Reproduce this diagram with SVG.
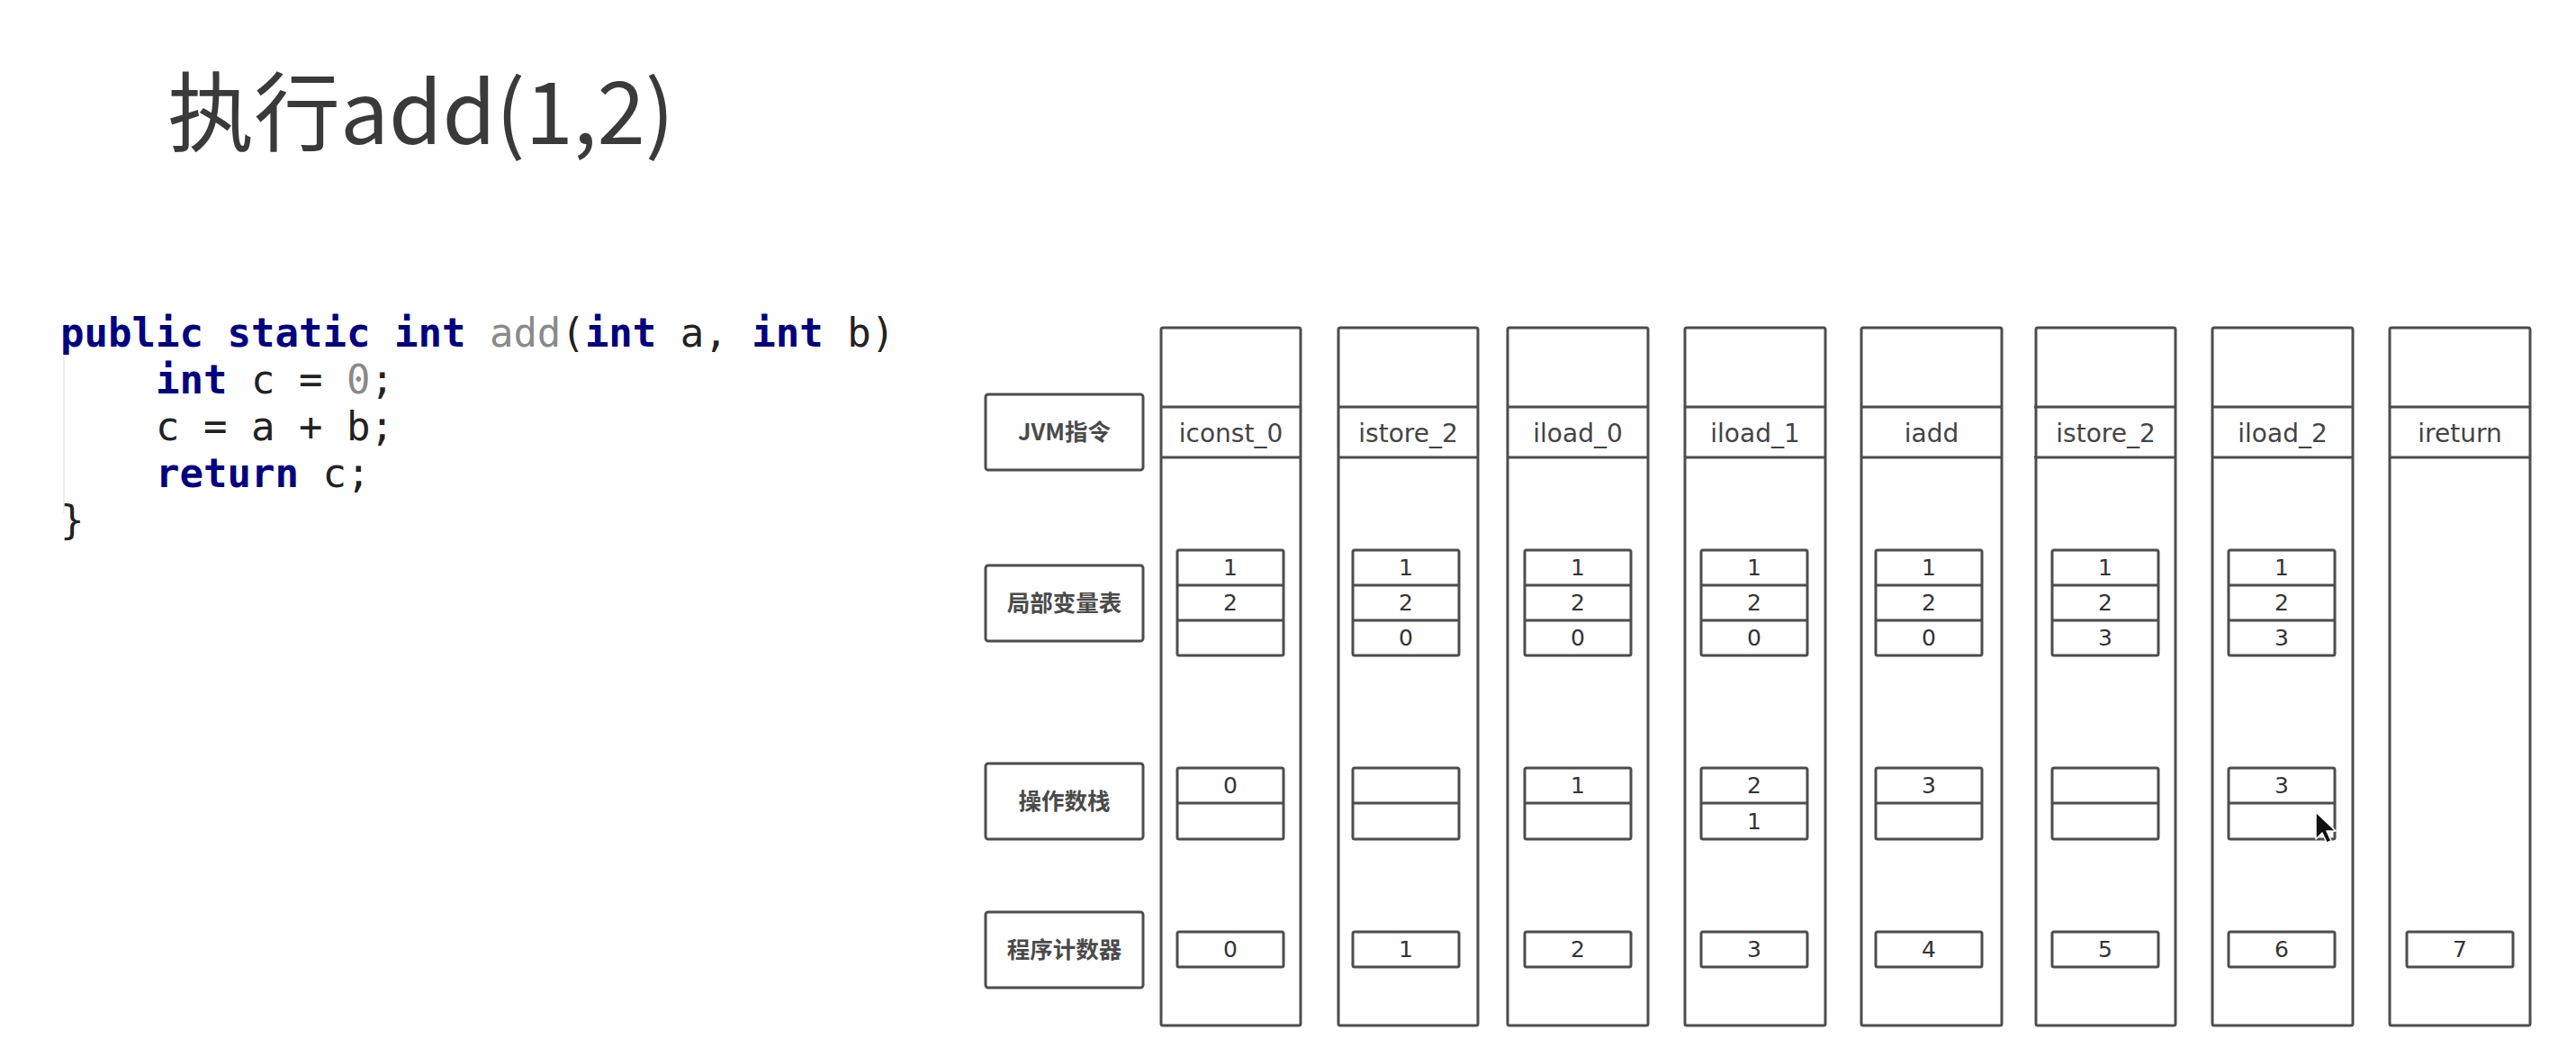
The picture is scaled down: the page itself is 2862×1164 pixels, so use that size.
<svg xmlns="http://www.w3.org/2000/svg" width="2862" height="1164" viewBox="0 0 2862 1164">
<style>
  .bx{fill:#fff;stroke:#4d4d4d;stroke-width:3}
  .ln{stroke:#4d4d4d;stroke-width:3;fill:none}
  .lbl{font-family:"Noto Sans CJK SC","DejaVu Sans",sans-serif;font-size:25.5px;font-weight:700;fill:#4a4a4a;text-anchor:middle}
  .ins{font-family:"DejaVu Sans","Noto Sans",sans-serif;font-size:28px;fill:#444;text-anchor:middle}
  .num{font-family:"DejaVu Sans","Noto Sans",sans-serif;font-size:25px;fill:#333;text-anchor:middle}
  .code{font-family:"DejaVu Sans Mono","Liberation Mono",monospace;font-size:44px;fill:#222}
  .kw{fill:#000080;font-weight:700}
  .gr{fill:#8a8a8a}
</style>
<rect width="2862" height="1164" fill="#fff"/>

<text id="title" x="186" y="160" font-family="Noto Sans CJK SC,sans-serif" font-size="96" fill="#3a3a3a">执行add(1,2)</text>

<g id="code">
  <line x1="71" y1="395" x2="71" y2="570" stroke="#ececec" stroke-width="2"/>
  <text class="code" x="67" y="385" xml:space="preserve"><tspan class="kw">public</tspan> <tspan class="kw">static</tspan> <tspan class="kw">int</tspan> <tspan class="gr">add</tspan>(<tspan class="kw">int</tspan> a, <tspan class="kw">int</tspan> b)</text>
  <text class="code" x="67" y="437" xml:space="preserve">    <tspan class="kw">int</tspan> c = <tspan class="gr">0</tspan>;</text>
  <text class="code" x="67" y="489" xml:space="preserve">    c = a + b;</text>
  <text class="code" x="67" y="541" xml:space="preserve">    <tspan class="kw">return</tspan> c;</text>
  <text class="code" x="67" y="593">}</text>
</g>

<g id="labels">
  <g id="label-jvm"><rect class="bx" x="1095" y="438" width="175" height="84" rx="3"/><text class="lbl" x="1182.5" y="489">JVM指令</text></g>
  <g id="label-lv"><rect class="bx" x="1095" y="628" width="175" height="84" rx="3"/><text class="lbl" x="1182.5" y="679">局部变量表</text></g>
  <g id="label-stack"><rect class="bx" x="1095" y="848" width="175" height="84" rx="3"/><text class="lbl" x="1182.5" y="899">操作数栈</text></g>
  <g id="label-pc"><rect class="bx" x="1095" y="1013" width="175" height="84" rx="3"/><text class="lbl" x="1182.5" y="1064">程序计数器</text></g>
</g>

<g id="col1">
  <rect class="bx" x="1290" y="364" width="155" height="775" rx="2"/>
  <path class="ln" d="M1290 452H1445M1290 508H1445"/>
  <text class="ins" x="1367.5" y="491">iconst_0</text>
  <rect class="bx" x="1308" y="611" width="118" height="117" rx="2"/><path class="ln" d="M1308 650H1426M1308 689H1426"/>
  <text class="num" x="1367" y="639">1</text><text class="num" x="1367" y="678">2</text>
  <rect class="bx" x="1308" y="853" width="118" height="79" rx="2"/><path class="ln" d="M1308 892H1426"/>
  <text class="num" x="1367" y="881">0</text>
  <rect class="bx" x="1308" y="1035" width="118" height="39" rx="2"/><text class="num" x="1367" y="1063">0</text>
</g>

<g id="col2">
  <rect class="bx" x="1487" y="364" width="155" height="775" rx="2"/>
  <path class="ln" d="M1487 452H1642M1487 508H1642"/>
  <text class="ins" x="1564.5" y="491">istore_2</text>
  <rect class="bx" x="1503" y="611" width="118" height="117" rx="2"/><path class="ln" d="M1503 650H1621M1503 689H1621"/>
  <text class="num" x="1562" y="639">1</text><text class="num" x="1562" y="678">2</text><text class="num" x="1562" y="717">0</text>
  <rect class="bx" x="1503" y="853" width="118" height="79" rx="2"/><path class="ln" d="M1503 892H1621"/>
  <rect class="bx" x="1503" y="1035" width="118" height="39" rx="2"/><text class="num" x="1562" y="1063">1</text>
</g>

<g id="col3">
  <rect class="bx" x="1675" y="364" width="156" height="775" rx="2"/>
  <path class="ln" d="M1675 452H1831M1675 508H1831"/>
  <text class="ins" x="1753" y="491">iload_0</text>
  <rect class="bx" x="1694" y="611" width="118" height="117" rx="2"/><path class="ln" d="M1694 650H1812M1694 689H1812"/>
  <text class="num" x="1753" y="639">1</text><text class="num" x="1753" y="678">2</text><text class="num" x="1753" y="717">0</text>
  <rect class="bx" x="1694" y="853" width="118" height="79" rx="2"/><path class="ln" d="M1694 892H1812"/>
  <text class="num" x="1753" y="881">1</text>
  <rect class="bx" x="1694" y="1035" width="118" height="39" rx="2"/><text class="num" x="1753" y="1063">2</text>
</g>

<g id="col4">
  <rect class="bx" x="1872" y="364" width="156" height="775" rx="2"/>
  <path class="ln" d="M1872 452H2028M1872 508H2028"/>
  <text class="ins" x="1950" y="491">iload_1</text>
  <rect class="bx" x="1890" y="611" width="118" height="117" rx="2"/><path class="ln" d="M1890 650H2008M1890 689H2008"/>
  <text class="num" x="1949" y="639">1</text><text class="num" x="1949" y="678">2</text><text class="num" x="1949" y="717">0</text>
  <rect class="bx" x="1890" y="853" width="118" height="79" rx="2"/><path class="ln" d="M1890 892H2008"/>
  <text class="num" x="1949" y="881">2</text><text class="num" x="1949" y="921">1</text>
  <rect class="bx" x="1890" y="1035" width="118" height="39" rx="2"/><text class="num" x="1949" y="1063">3</text>
</g>

<g id="col5">
  <rect class="bx" x="2068" y="364" width="156" height="775" rx="2"/>
  <path class="ln" d="M2068 452H2224M2068 508H2224"/>
  <text class="ins" x="2146" y="491">iadd</text>
  <rect class="bx" x="2084" y="611" width="118" height="117" rx="2"/><path class="ln" d="M2084 650H2202M2084 689H2202"/>
  <text class="num" x="2143" y="639">1</text><text class="num" x="2143" y="678">2</text><text class="num" x="2143" y="717">0</text>
  <rect class="bx" x="2084" y="853" width="118" height="79" rx="2"/><path class="ln" d="M2084 892H2202"/>
  <text class="num" x="2143" y="881">3</text>
  <rect class="bx" x="2084" y="1035" width="118" height="39" rx="2"/><text class="num" x="2143" y="1063">4</text>
</g>

<g id="col6">
  <rect class="bx" x="2262" y="364" width="155" height="775" rx="2"/>
  <path class="ln" d="M2260 452H2417M2260 508H2417"/>
  <text class="ins" x="2339.5" y="491">istore_2</text>
  <rect class="bx" x="2280" y="611" width="118" height="117" rx="2"/><path class="ln" d="M2280 650H2398M2280 689H2398"/>
  <text class="num" x="2339" y="639">1</text><text class="num" x="2339" y="678">2</text><text class="num" x="2339" y="717">3</text>
  <rect class="bx" x="2280" y="853" width="118" height="79" rx="2"/><path class="ln" d="M2280 892H2398"/>
  <rect class="bx" x="2280" y="1035" width="118" height="39" rx="2"/><text class="num" x="2339" y="1063">5</text>
</g>

<g id="col7">
  <rect class="bx" x="2458" y="364" width="156" height="775" rx="2"/>
  <path class="ln" d="M2458 452H2614M2458 508H2614"/>
  <text class="ins" x="2536" y="491">iload_2</text>
  <rect class="bx" x="2476" y="611" width="118" height="117" rx="2"/><path class="ln" d="M2476 650H2594M2476 689H2594"/>
  <text class="num" x="2535" y="639">1</text><text class="num" x="2535" y="678">2</text><text class="num" x="2535" y="717">3</text>
  <rect class="bx" x="2476" y="853" width="118" height="79" rx="2"/><path class="ln" d="M2476 892H2594"/>
  <text class="num" x="2535" y="881">3</text>
  <rect class="bx" x="2476" y="1035" width="118" height="39" rx="2"/><text class="num" x="2535" y="1063">6</text>
</g>

<g id="col8">
  <rect class="bx" x="2655" y="364" width="156" height="775" rx="2"/>
  <path class="ln" d="M2655 452H2811M2655 508H2811"/>
  <text class="ins" x="2733" y="491">ireturn</text>
  <rect class="bx" x="2674" y="1035" width="118" height="39" rx="2"/><text class="num" x="2733" y="1063">7</text>
</g>

<g id="connectors"></g>

<g id="cursor">
  <path d="M2573 902 L2573 932 L2580 925 L2585 936 L2590 934 L2585 923 L2595 923 Z" fill="#111" stroke="#fff" stroke-width="1.5" stroke-linejoin="round"/>
</g>
</svg>
